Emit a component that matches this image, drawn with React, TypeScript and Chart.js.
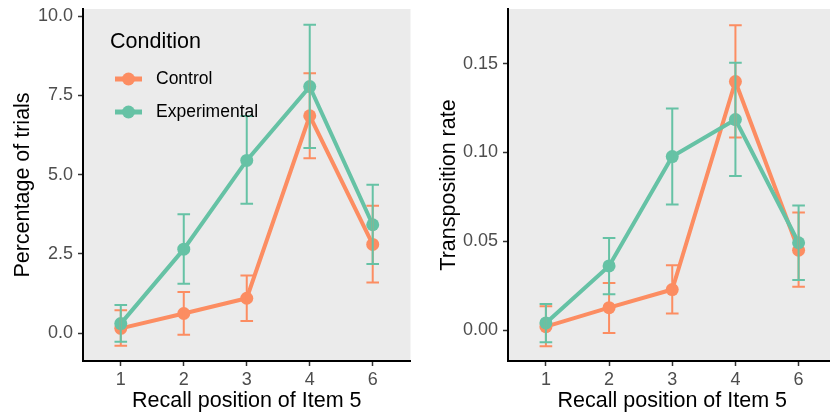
import React, { useEffect, useRef } from "react";
import { Chart, registerables } from "chart.js";

Chart.register(...registerables);

// ---------- data ----------
const positions = ["1", "2", "3", "4", "6"];
const seriesNames = ["Control", "Experimental"];

// Left panel: percentage of trials
const controlPct = [0.15, 0.62, 1.1, 6.86, 2.8];
const controlPctLo = [-0.4, -0.05, 0.38, 5.52, 1.6];
const controlPctHi = [0.72, 1.3, 1.82, 8.2, 4.02];
const experimentalPct = [0.3, 2.65, 5.45, 7.78, 3.42];
const experimentalPctLo = [-0.27, 1.56, 4.08, 5.84, 2.18];
const experimentalPctHi = [0.89, 3.75, 6.85, 9.73, 4.68];
const pctTicks = [0, 2.5, 5, 7.5, 10];

// Right panel: transposition rate
const controlRate = [0.002, 0.0127, 0.0229, 0.1399, 0.045];
const controlRateLo = [-0.009, -0.0015, 0.0094, 0.1084, 0.0244];
const controlRateHi = [0.0135, 0.0266, 0.0366, 0.1716, 0.0662];
const experimentalRate = [0.0041, 0.0362, 0.0977, 0.1185, 0.0492];
const experimentalRateLo = [-0.0068, 0.0203, 0.0707, 0.0867, 0.0282];
const experimentalRateHi = [0.0148, 0.0519, 0.1247, 0.1504, 0.0701];
const rateTicks = [0, 0.05, 0.1, 0.15];

const colors = ["#FC8D62", "#66C2A5"];
const FONT = "'Liberation Sans', Arial, Helvetica, sans-serif";

type PanelSpec = {
  values: number[][];
  lo: number[][];
  hi: number[][];
  yMin: number;
  yMax: number;
  yTicks: number[];
  decimals: number;
  yTitle: string;
  yWidth: number;
  yTitlePad: number;
  legend: boolean;
};

function buildConfig(spec: PanelSpec): any {
  const bgPlugin = {
    id: "panelBg",
    beforeDraw(chart: any) {
      const { ctx, chartArea } = chart;
      ctx.save();
      ctx.fillStyle = "#EBEBEB";
      ctx.fillRect(chartArea.left, chartArea.top, chartArea.right - chartArea.left, chartArea.bottom - chartArea.top);
      ctx.restore();
    },
  };
  const errPlugin = {
    id: "errBars",
    afterDatasetsDraw(chart: any) {
      const { ctx } = chart;
      const xs = chart.scales.x;
      const ys = chart.scales.y;
      const half = xs.getPixelForValue(1.1) - xs.getPixelForValue(1);
      ctx.save();
      ctx.lineWidth = 2;
      spec.lo.forEach((loArr, s) => {
        ctx.strokeStyle = colors[s];
        loArr.forEach((lo, i) => {
          const x = xs.getPixelForValue(i + 1);
          const y1 = ys.getPixelForValue(lo);
          const y2 = ys.getPixelForValue(spec.hi[s][i]);
          ctx.beginPath();
          ctx.moveTo(x, y1);
          ctx.lineTo(x, y2);
          ctx.moveTo(x - half, y1);
          ctx.lineTo(x + half, y1);
          ctx.moveTo(x - half, y2);
          ctx.lineTo(x + half, y2);
          ctx.stroke();
        });
      });
      ctx.restore();
    },
  };
  const legendPlugin = {
    id: "customLegend",
    afterDraw(chart: any) {
      if (!spec.legend) return;
      const { ctx } = chart;
      ctx.save();
      ctx.fillStyle = "#000";
      ctx.textBaseline = "middle";
      ctx.textAlign = "left";
      ctx.font = `21.5px ${FONT}`;
      ctx.fillText("Condition", 110, 42);
      const rows = [79, 112];
      seriesNames.forEach((name, s) => {
        const y = rows[s];
        ctx.strokeStyle = colors[s];
        ctx.lineWidth = 5;
        ctx.beginPath();
        ctx.moveTo(115, y);
        ctx.lineTo(142, y);
        ctx.stroke();
        ctx.fillStyle = colors[s];
        ctx.beginPath();
        ctx.arc(128.5, y, 6.5, 0, Math.PI * 2);
        ctx.fill();
        ctx.fillStyle = "#000";
        ctx.font = `17.5px ${FONT}`;
        ctx.fillText(name, 156, y);
      });
      ctx.restore();
    },
  };

  return {
    type: "line",
    data: {
      datasets: spec.values.map((vals, s) => ({
        label: seriesNames[s],
        data: vals.map((v, i) => ({ x: i + 1, y: v })),
        borderColor: colors[s],
        backgroundColor: colors[s],
        borderWidth: 4,
        pointRadius: 6.5,
        pointBorderWidth: 0,
        pointBackgroundColor: colors[s],
        order: spec.values.length - s,
        tension: 0,
      })),
    },
    options: {
      animation: false,
      responsive: false,
      layout: { padding: { top: 9, left: 0, right: 0, bottom: 0 } },
      plugins: { legend: { display: false }, tooltip: { enabled: false } },
      scales: {
        x: {
          type: "linear",
          min: 0.4,
          max: 5.6,
          afterBuildTicks(scale: any) {
            scale.ticks = positions.map((_, i) => ({ value: i + 1 }));
          },
          afterFit(scale: any) {
            scale.height = 55;
            scale.paddingLeft = 0;
            scale.paddingRight = 0;
          },
          ticks: {
            callback: (v: number) => positions[Math.round(v) - 1] ?? "",
            color: "#4D4D4D",
            font: { family: FONT, size: 18 },
            padding: 3,
            maxRotation: 0,
            autoSkip: false,
          },
          grid: { drawOnChartArea: false, drawTicks: true, tickLength: 5, tickColor: "#333333", tickWidth: 1.5, color: "rgba(0,0,0,0)" },
          border: { display: true, color: "#000", width: 2 },
          title: {
            display: true,
            text: "Recall position of Item 5",
            color: "#000",
            font: { family: FONT, size: 21.5 },
            padding: { top: 0, bottom: 2 },
          },
        },
        y: {
          type: "linear",
          min: spec.yMin,
          max: spec.yMax,
          afterBuildTicks(scale: any) {
            scale.ticks = spec.yTicks.map((v) => ({ value: v }));
          },
          afterFit(scale: any) {
            scale.width = spec.yWidth;
            scale.paddingTop = 0;
            scale.paddingBottom = 0;
          },
          ticks: {
            callback: (v: number) => Number(v).toFixed(spec.decimals),
            color: "#4D4D4D",
            font: { family: FONT, size: 18 },
            padding: 5,
            autoSkip: false,
          },
          grid: { drawOnChartArea: false, drawTicks: true, tickLength: 5, tickColor: "#333333", tickWidth: 1.5, color: "rgba(0,0,0,0)" },
          border: { display: true, color: "#000", width: 2 },
          title: {
            display: true,
            text: spec.yTitle,
            color: "#000",
            font: { family: FONT, size: 21.5 },
            padding: { top: spec.yTitlePad, bottom: 0 },
          },
        },
      },
    },
    plugins: [bgPlugin, errPlugin, legendPlugin],
  };
}

function Panel({ spec, width, left }: { spec: PanelSpec; width: number; left: number }) {
  const ref = useRef<HTMLCanvasElement | null>(null);
  useEffect(() => {
    if (!ref.current) return;
    const chart = new Chart(ref.current, buildConfig(spec));
    return () => chart.destroy();
  }, []);
  return (
    <canvas
      ref={ref}
      width={width}
      height={416}
      style={{ position: "absolute", left, top: 0, width, height: 416, display: "block" }}
    />
  );
}

const leftSpec: PanelSpec = {
  values: [controlPct, experimentalPct],
  lo: [controlPctLo, experimentalPctLo],
  hi: [controlPctHi, experimentalPctHi],
  yMin: -0.88,
  yMax: 10.23,
  yTicks: pctTicks,
  decimals: 1,
  yTitle: "Percentage of trials",
  yWidth: 83,
  yTitlePad: 10,
  legend: true,
};

const rightSpec: PanelSpec = {
  values: [controlRate, experimentalRate],
  lo: [controlRateLo, experimentalRateLo],
  hi: [controlRateHi, experimentalRateHi],
  yMin: -0.0173,
  yMax: 0.1807,
  yTicks: rateTicks,
  decimals: 2,
  yTitle: "Transposition rate",
  yWidth: 91,
  yTitlePad: 19,
  legend: false,
};

export default function App() {
  return (
    <div
      style={{
        position: "fixed",
        left: 0,
        top: 0,
        width: 830,
        height: 416,
        overflow: "hidden",
        background: "#fff",
      }}
    >
      <Panel spec={leftSpec} width={417} left={0} />
      <Panel spec={rightSpec} width={426} left={417} />
    </div>
  );
}
